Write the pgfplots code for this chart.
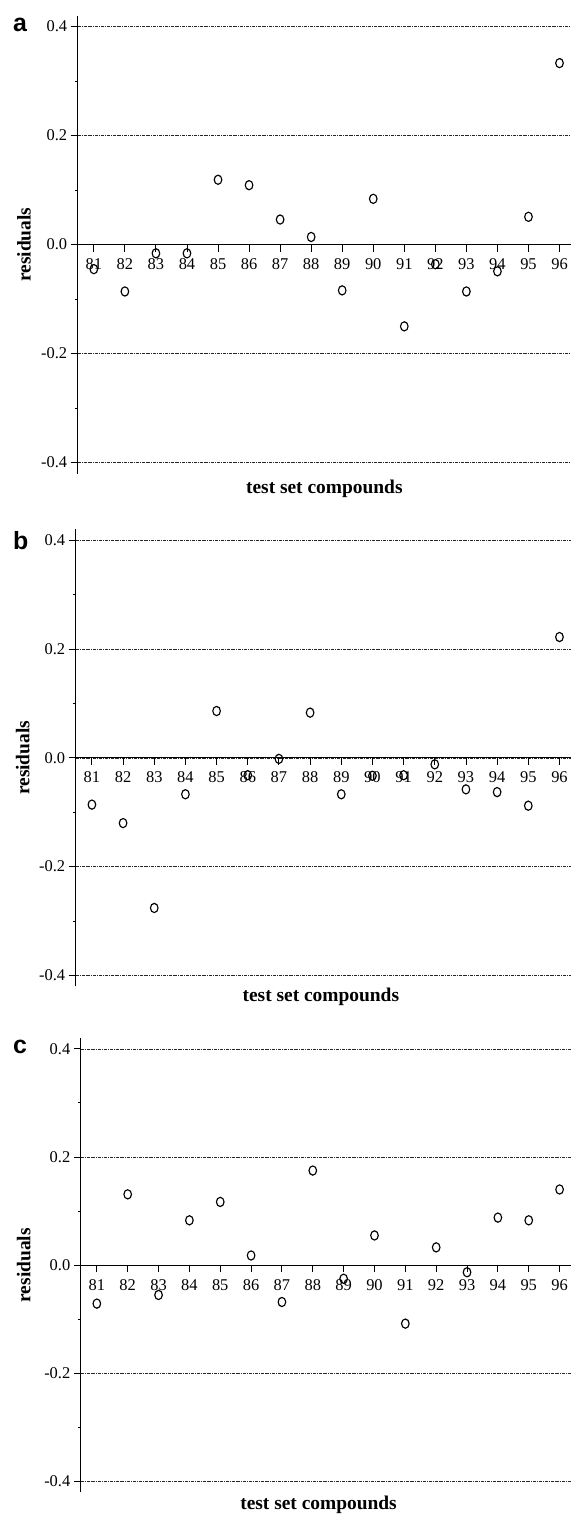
\documentclass[border=0pt]{standalone}
\usepackage{fontspec}
\setmainfont{Liberation Serif}
\newfontfamily\arialfont{Liberation Sans}
\usepackage{pgfplots}
\pgfplotsset{compat=1.18}

\pgfplotsset{
  resid/.style={
    scale only axis,
    anchor=north west,
    xmin=80.48, xmax=96.37,
    ymin=-0.42, ymax=0.42,
    axis x line=middle,
    axis y line=left,
    hide obscured x ticks=false,
    hide obscured y ticks=false,
    axis line style={-, black, line width=1.1bp},
    xtick={81,...,96},
    ytick={-0.4,-0.2,0,0.2,0.4},
    yticklabels={-0.4,-0.2,0.0,0.2,0.4},
    minor ytick={-0.3,-0.1,0.1,0.3},
    tick align=outside,
    major tick length=7bp,
    minor tick length=3bp,
    tick style={black, line width=0.9bp},
    ymajorgrids,
    major grid style={black!85, line width=0.5bp,
      dash pattern=on 3bp off 1bp on 0.8bp off 1bp},
    tick label style={font=\fontsize{16.5}{18}\selectfont},
    xticklabel style={yshift=-3.5bp},
    /pgf/number format/assume math mode=true,
    xlabel={test set compounds},
    ylabel={residuals},
    label style={font=\fontsize{19.5}{21}\selectfont\bfseries, inner sep=0pt},
    ylabel style={at={(axis description cs:0,0.5)}, anchor=south},
    clip=false,
  },
  pts/.style={only marks, mark=o, mark size=4bp,
    mark options={black, line width=1.15bp, xscale=0.95, yscale=1.15}},
}

\begin{document}
\begin{tikzpicture}
\path[use as bounding box] (0bp,0bp) rectangle (571bp,-1514bp);

% panel a
\begin{axis}[resid, at={(77.7bp,-15.7bp)}, width=493.3bp, height=457.8bp,
  xlabel style={at={(axis description cs:0.5,0)}, anchor=north, yshift=-6bp},
  ylabel style={yshift=46.7bp}]
\addplot[pts] coordinates {
  (81,-0.045) (82,-0.086) (83,-0.016) (84,-0.016) (85,0.119) (86,0.109)
  (87,0.046) (88,0.014) (89,-0.084) (90,0.084) (91,-0.150) (92,-0.036)
  (93,-0.086) (94,-0.049) (95,0.051) (96,0.333)
};
\end{axis}

% panel b
\begin{axis}[resid, at={(75.7bp,-529.3bp)}, width=495.3bp, height=457bp,
  xlabel style={at={(axis description cs:0.495,0)}, anchor=north, yshift=-2bp},
  ylabel style={yshift=46bp}]
\addplot[pts] coordinates {
  (81,-0.086) (82,-0.120) (83,-0.276) (84,-0.067) (85,0.086) (86,-0.032)
  (87,-0.002) (88,0.083) (89,-0.067) (90,-0.033) (91,-0.032) (92,-0.012)
  (93,-0.058) (94,-0.063) (95,-0.088) (96,0.222)
};
\end{axis}

% panel c
\begin{axis}[resid, at={(80.8bp,-1038bp)}, width=490.2bp, height=454.4bp,
  xlabel style={at={(axis description cs:0.485,0)}, anchor=north, yshift=-3bp},
  ylabel style={yshift=50bp}]
\addplot[pts] coordinates {
  (81,-0.071) (82,0.131) (83,-0.055) (84,0.083) (85,0.117) (86,0.018)
  (87,-0.068) (88,0.175) (89,-0.025) (90,0.055) (91,-0.108) (92,0.033)
  (93,-0.013) (94,0.088) (95,0.083) (96,0.140)
};
\end{axis}

\begin{scope}[every node/.style={anchor=base west, inner sep=0pt,
    font=\fontsize{25}{25}\arialfont\bfseries}]
  \node at (13bp,-31.5bp) {a};
  \node at (13bp,-549bp) {b};
  \node at (13bp,-1053bp) {c};
\end{scope}
\end{tikzpicture}
\end{document}
